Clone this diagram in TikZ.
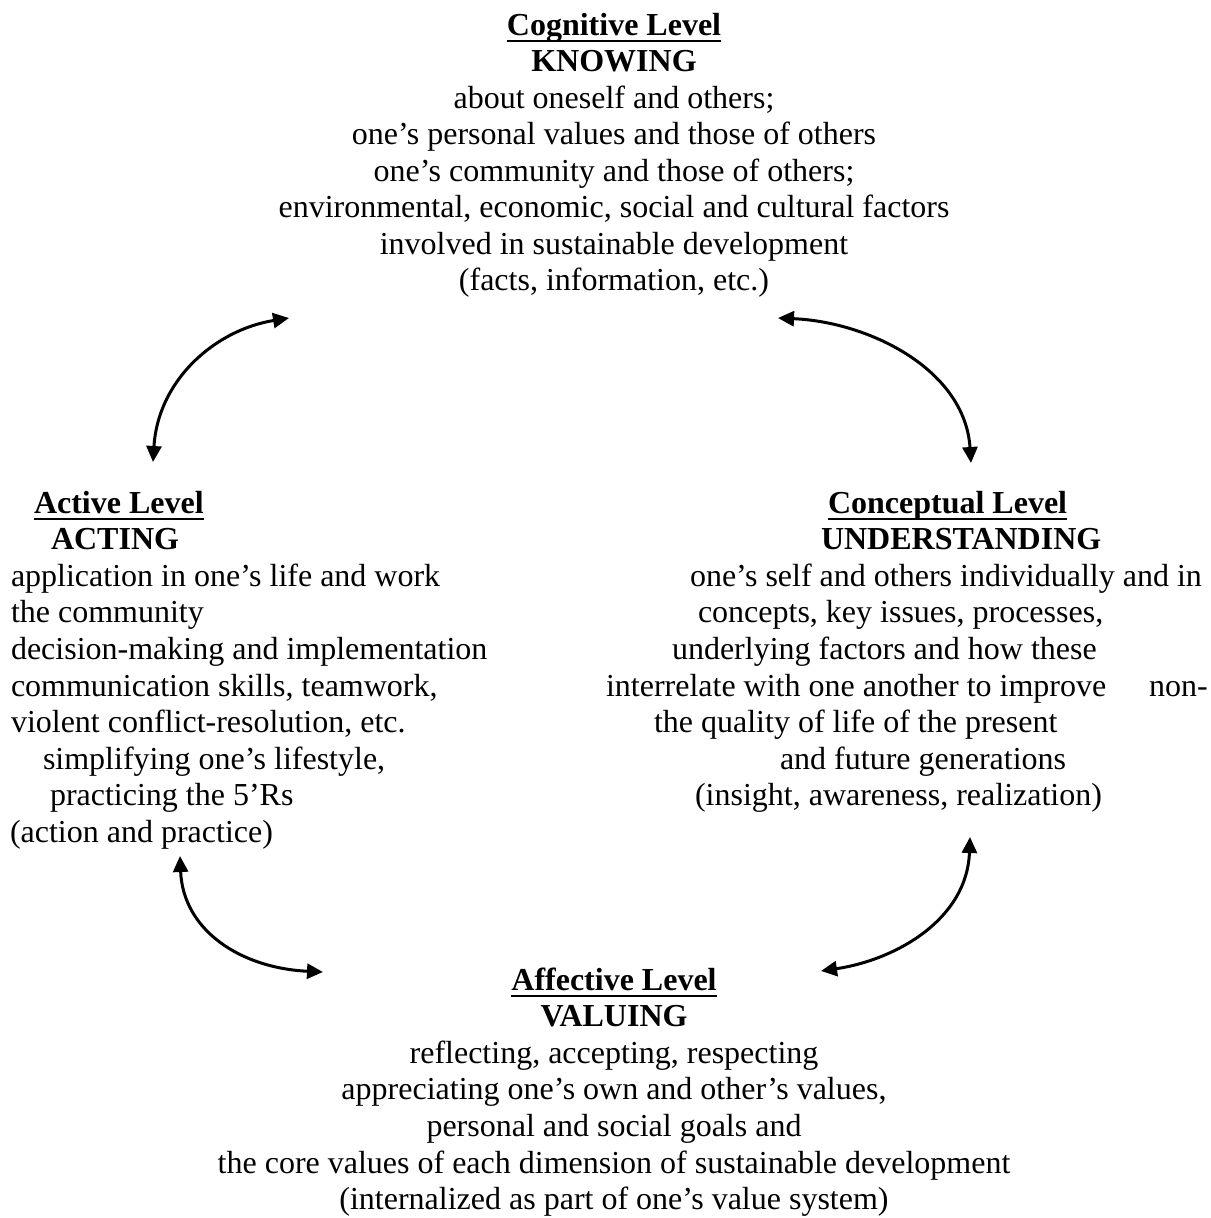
\documentclass[tikz,border=0pt]{standalone}
\usepackage{fontspec}
\setmainfont{Liberation Serif}
\usetikzlibrary{arrows.meta}

\tikzset{
  txt/.style={inner sep=0pt, outer sep=0pt, font=\fontsize{32}{36.6}\selectfont},
  ctxt/.style={txt, anchor=base},
  ltxt/.style={txt, anchor=base west},
  head/.style={font=\fontsize{32}{36.6}\selectfont\bfseries},
  uline/.style={line width=2.8pt},
  cycle arrow/.style={line width=3pt, {Triangle[length=16pt,width=15pt]}-{Triangle[length=16pt,width=15pt]}},
}

\begin{document}
\begin{tikzpicture}[x=1pt,y=-1pt]
\useasboundingbox (0,0) rectangle (1210,1218);

% ---- Cognitive level (top, centred) ----
\node[ctxt,head] (cogH) at (614,35) {Cognitive Level};
\draw[uline] ([yshift=-6pt]cogH.base west) -- ([yshift=-6pt]cogH.base east);
\node[ctxt,head] (cogK) at (614,71.5) {KNOWING};
\foreach \t [count=\i] in {
  {about oneself and others;},
  {one’s personal values and those of others},
  {one’s community and those of others;},
  {environmental, economic, social and cultural factors},
  {involved in sustainable development},
  {(facts, information, etc.)}}
  \node[ctxt] (cog\i) at (614,{71.5+36.5*\i}) {\t};

% ---- Active level (left) ----
\node[ltxt,head] (actH) at (34,513) {Active Level};
\draw[uline] ([yshift=-6pt]actH.base west) -- ([yshift=-6pt]actH.base east);
\node[ltxt,head] (actK) at (51,549.6) {ACTING};
\node[ltxt] (act1) at (11,586.2) {application in one’s life and work};
\node[ltxt] (act2) at (11,622.8) {the community};
\node[ltxt] (act3) at (11,659.4) {decision-making and implementation};
\node[ltxt] (act4) at (11,696) {communication skills, teamwork,};
\node[ltxt] (act5) at (11,732.6) {violent conflict-resolution, etc.};
\node[ltxt] (act6) at (43,769.2) {simplifying one’s lifestyle,};
\node[ltxt] (act7) at (50,805.8) {practicing the 5’Rs};
\node[ltxt] (act8) at (10,842.4) {(action and practice)};

% ---- Conceptual level (right) ----
\node[ltxt,head] (conH) at (828,513) {Conceptual Level};
\draw[uline] ([yshift=-6pt]conH.base west) -- ([yshift=-6pt]conH.base east);
\node[ltxt,head] (conK) at (821,549.6) {UNDERSTANDING};
\node[ltxt] (con1) at (690,586.2) {one’s self and others individually and in};
\node[ltxt] (con2) at (698,622.8) {concepts, key issues, processes,};
\node[ltxt] (con3) at (672,659.4) {underlying factors and how these};
\node[ltxt] (con4) at (606,696) {interrelate with one another to improve};
\node[ltxt] (con4b) at (1149,696) {non-};
\node[ltxt] (con5) at (654,732.6) {the quality of life of the present};
\node[ltxt] (con6) at (780,769.2) {and future generations};
\node[ltxt] (con7) at (695,805.8) {(insight, awareness, realization)};

% ---- Affective level (bottom, centred) ----
\node[ctxt,head] (affH) at (614,990) {Affective Level};
\draw[uline] ([yshift=-6pt]affH.base west) -- ([yshift=-6pt]affH.base east);
\node[ctxt,head] (affK) at (614,1026.6) {VALUING};
\foreach \t [count=\i] in {
  {reflecting, accepting, respecting},
  {appreciating one’s own and other’s values,},
  {personal and social goals and},
  {the core values of each dimension of sustainable development},
  {(internalized as part of one’s value system)}}
  \node[ctxt] (aff\i) at (614,{1026.6+36.6*\i}) {\t};

% ---- arrow ends ----
\coordinate (ulA) at (153,462);
\coordinate (ulB) at (289,318);
\coordinate (urA) at (778,318);
\coordinate (urB) at (971,463);
\coordinate (llA) at (180,856);
\coordinate (llB) at (323,972);
\coordinate (lrA) at (970,837);
\coordinate (lrB) at (821,971);

% ---- two-way arrows of the cycle ----
\draw[cycle arrow] (ulA) .. controls (158,380) and (215,330) .. (ulB);
\draw[cycle arrow] (urA) .. controls (870,322) and (965,370) .. (urB);
\draw[cycle arrow] (llA) .. controls (183,930) and (240,968) .. (llB);
\draw[cycle arrow] (lrA) .. controls (967,920) and (895,960) .. (lrB);
\end{tikzpicture}
\end{document}
